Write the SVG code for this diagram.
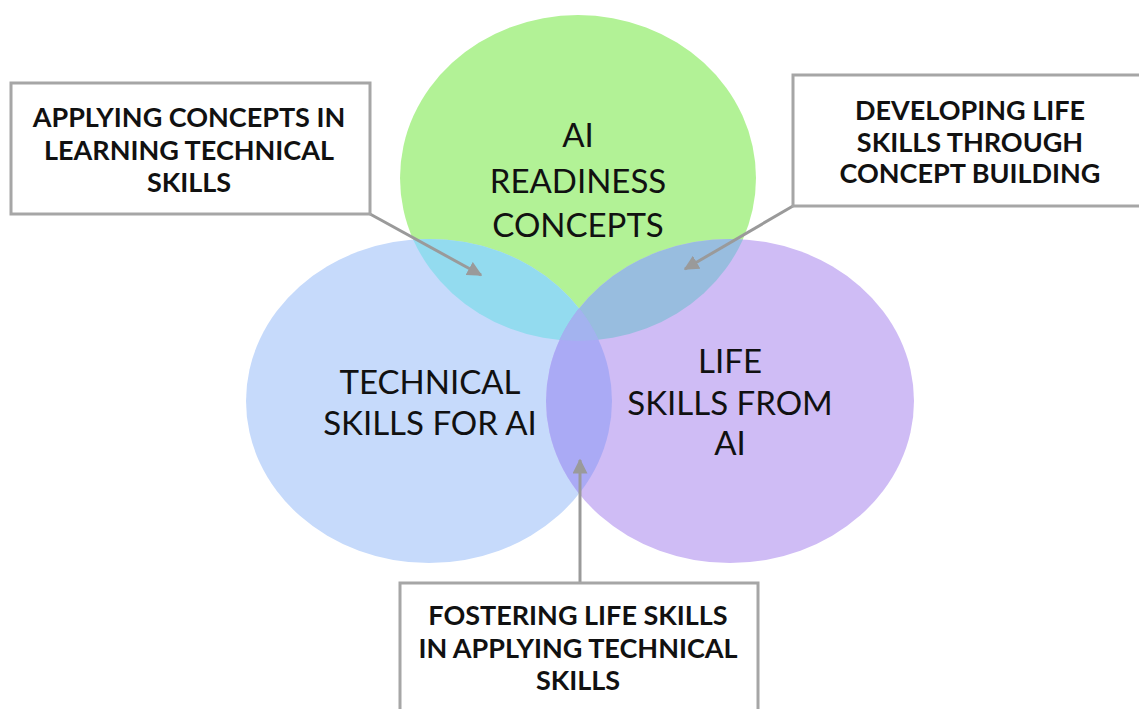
<svg xmlns="http://www.w3.org/2000/svg" width="1139" height="709" viewBox="0 0 1139 709">
<defs>
<style>
.box{fill:#fff;stroke:#a6a6a6;stroke-width:3}
.bt{font-family:Lato,"Liberation Sans",sans-serif;font-weight:bold;font-size:27px;fill:#111;text-anchor:middle}
.ct{font-family:Lato,"Liberation Sans",sans-serif;font-size:33px;fill:#111;text-anchor:middle}
.con{stroke:#9a9a9a;stroke-width:3;fill:none}
</style>
<marker id="ah" viewBox="0 0 10 10" refX="9" refY="5" markerWidth="5" markerHeight="5" orient="auto" markerUnits="strokeWidth">
<path d="M0,0 L10,5 L0,10 z" fill="#9a9a9a"/>
</marker>
<ellipse id="eg" cx="578" cy="178" rx="178" ry="163"/>
<ellipse id="eb" cx="429" cy="401" rx="183" ry="162"/>
<ellipse id="ep" cx="730" cy="401" rx="184" ry="162"/>
<clipPath id="cg"><use href="#eg"/></clipPath>
<clipPath id="cb"><use href="#eb"/></clipPath>
<clipPath id="cp"><use href="#ep"/></clipPath>
</defs>
<rect width="1139" height="709" fill="#fff"/>
<g id="ai-readiness">
<use href="#eg" fill="#b2f296"/>
</g>
<g id="technical-skills">
<use href="#eb" fill="#c6dafb"/>
</g>
<g id="life-skills">
<use href="#ep" fill="#cfbcf5"/>
</g>
<g id="overlaps">
<g clip-path="url(#cg)"><use href="#eb" fill="#93dbef"/></g>
<g clip-path="url(#cg)"><use href="#ep" fill="#98bddf"/></g>
<g clip-path="url(#cb)"><use href="#ep" fill="#aaaaf5"/></g>
<g clip-path="url(#cg)"><g clip-path="url(#cb)"><use href="#ep" fill="#a3b3ef"/></g></g>
</g>
<g id="labels">
<text class="ct" x="578" y="147">AI</text>
<text class="ct" x="578" y="193">READINESS</text>
<text class="ct" x="578" y="237">CONCEPTS</text>
<text class="ct" x="430" y="394">TECHNICAL</text>
<text class="ct" x="430" y="435">SKILLS FOR AI</text>
<text class="ct" x="730" y="373">LIFE</text>
<text class="ct" x="730" y="415">SKILLS FROM</text>
<text class="ct" x="730" y="455">AI</text>
</g>
<g id="connectors">
<line class="con" x1="370" y1="214" x2="481" y2="275" marker-end="url(#ah)"/>
<line class="con" x1="793" y1="206" x2="685" y2="269" marker-end="url(#ah)"/>
<line class="con" x1="580" y1="583" x2="580" y2="460" marker-end="url(#ah)"/>
</g>
<g id="box-applying">
<rect class="box" x="11" y="83" width="359" height="131"/>
<text class="bt" x="189" y="127">APPLYING CONCEPTS IN</text>
<text class="bt" x="189" y="160">LEARNING TECHNICAL</text>
<text class="bt" x="189" y="192">SKILLS</text>
</g>
<g id="box-developing">
<rect class="box" x="793" y="75" width="360" height="131"/>
<text class="bt" x="970" y="120">DEVELOPING LIFE</text>
<text class="bt" x="970" y="152">SKILLS THROUGH</text>
<text class="bt" x="970" y="183">CONCEPT BUILDING</text>
</g>
<g id="box-fostering">
<rect class="box" x="400" y="583" width="358" height="140"/>
<text class="bt" x="578" y="625">FOSTERING LIFE SKILLS</text>
<text class="bt" x="578" y="658">IN APPLYING TECHNICAL</text>
<text class="bt" x="578" y="690">SKILLS</text>
</g>
</svg>
